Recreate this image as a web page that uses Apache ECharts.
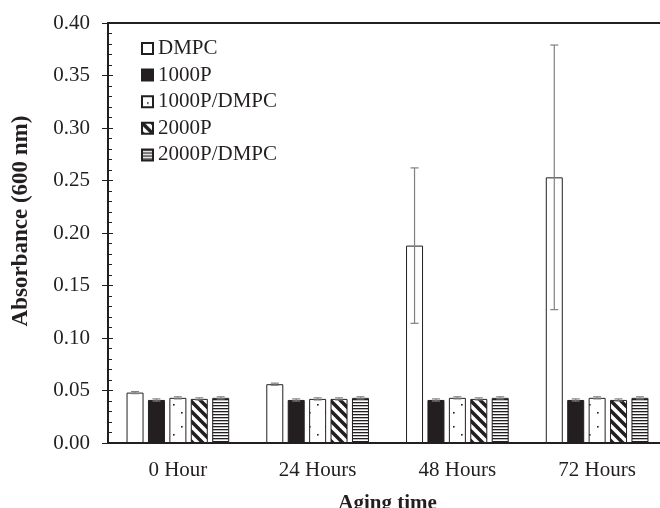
<!DOCTYPE html>
<html>
<head>
<meta charset="utf-8">
<script src="https://cdn.jsdelivr.net/npm/echarts@6/dist/echarts.min.js"></script>
<style>
  html, body { margin: 0; padding: 0; background: #fff; }
  #container { width: 660px; height: 508px; }
</style>
</head>
<body>
<div id="container"></div>
<script>
var categories = ['0 Hour', '24 Hours', '48 Hours', '72 Hours'];
var seriesNames = ['DMPC', '1000P', '1000P/DMPC', '2000P', '2000P/DMPC'];

var dmpc = [0.048, 0.056, 0.188, 0.253];
var p1000 = [0.041, 0.041, 0.041, 0.041];
var p1000dmpc = [0.043, 0.042, 0.043, 0.043];
var p2000 = [0.042, 0.042, 0.042, 0.041];
var p2000dmpc = [0.043, 0.043, 0.043, 0.043];

var dmpcErr = [0.001, 0.001, 0.074, 0.126];
var p1000Err = [0.001, 0.001, 0.001, 0.001];
var p1000dmpcErr = [0.001, 0.001, 0.001, 0.001];
var p2000Err = [0.001, 0.001, 0.001, 0.001];
var p2000dmpcErr = [0.001, 0.001, 0.001, 0.001];

var yTicks = ['0.00', '0.05', '0.10', '0.15', '0.20', '0.25', '0.30', '0.35', '0.40'];

var values = [dmpc, p1000, p1000dmpc, p2000, p2000dmpc];
var errors = [dmpcErr, p1000Err, p1000dmpcErr, p2000Err, p2000dmpcErr];

var ink = '#231f20';
var font = 'Liberation Serif';
var BAR_W = 17;
var BAR_GAP = 0.26;

// little tiles for the hatched fills
function tile(w, h, draw) {
  var c = document.createElement('canvas');
  c.width = w; c.height = h;
  var ctx = c.getContext('2d');
  ctx.fillStyle = '#fff';
  ctx.fillRect(0, 0, w, h);
  ctx.fillStyle = ink;
  ctx.strokeStyle = ink;
  draw(ctx);
  return c;
}

var dots = tile(16, 30, function (ctx) {
  ctx.fillRect(5, 6, 1.6, 1.6);
  ctx.fillRect(13, 14, 1.6, 1.6);
  ctx.fillRect(5, 22, 1.6, 1.6);
});

var diag = tile(10, 10, function (ctx) {
  ctx.lineWidth = 3.5;
  for (var k = -1; k <= 1; k++) {
    ctx.beginPath();
    ctx.moveTo(k * 10 - 2, -2);
    ctx.lineTo(k * 10 + 12, 12);
    ctx.stroke();
  }
});

var horiz = tile(4, 3.4, function (ctx) {
  ctx.fillRect(0, 0, 4, 1.3);
});

var fills = ['#ffffff', ink,
  { image: dots, repeat: 'repeat' },
  { image: diag, repeat: 'repeat' },
  { image: horiz, repeat: 'repeat' }];

var series = values.map(function (v, i) {
  return {
    name: seriesNames[i],
    type: 'bar',
    data: v,
    barWidth: BAR_W,
    barGap: (BAR_GAP * 100) + '%',
    itemStyle: { color: fills[i], borderColor: ink, borderWidth: 1 }
  };
});

var errData = [];
errors.forEach(function (e, i) {
  e.forEach(function (d, c) {
    errData.push([c, values[i][c], d, i]);
  });
});

series.push({
  type: 'custom',
  z: 5,
  data: errData,
  encode: { x: 0, y: 1 },
  renderItem: function (params, api) {
    var c = api.value(0), v = api.value(1), e = api.value(2), i = api.value(3);
    var step = BAR_W * (1 + BAR_GAP);
    var x = api.coord([c, 0])[0] + (i - 2) * step;
    var top = api.coord([c, v + e])[1];
    var bot = api.coord([c, v - e])[1];
    var cap = 4;
    var style = { stroke: '#808080', lineWidth: 1.2, fill: null };
    return {
      type: 'group',
      children: [
        { type: 'line', shape: { x1: x, y1: top, x2: x, y2: bot }, style: style },
        { type: 'line', shape: { x1: x - cap, y1: top, x2: x + cap, y2: top }, style: style },
        { type: 'line', shape: { x1: x - cap, y1: bot, x2: x + cap, y2: bot }, style: style }
      ]
    };
  }
});

var myChart = echarts.init(document.getElementById('container'));

var option = {
  backgroundColor: '#fff',
  animation: false,
  textStyle: { fontFamily: font, color: ink },
  grid: {
    left: 108, top: 23, width: 559, height: 420,
    outerBoundsMode: 'none',
    containLabel: false,
    show: true, borderColor: ink, borderWidth: 2, backgroundColor: 'transparent'
  },
  legend: {
    orient: 'vertical',
    left: 141, top: 38,
    padding: 0,
    icon: 'rect',
    itemWidth: 11, itemHeight: 11, itemGap: 5.6,
    data: seriesNames,
    textStyle: { fontFamily: font, fontSize: 21, lineHeight: 21, color: ink }
  },
  xAxis: {
    type: 'category',
    data: categories,
    name: 'Aging time',
    nameLocation: 'middle',
    nameGap: 50,
    nameTextStyle: { fontFamily: font, fontSize: 21, fontWeight: 'bold', color: ink },
    axisLine: { lineStyle: { color: ink, width: 2 } },
    axisTick: { inside: true, length: 6, lineStyle: { color: ink } },
    axisLabel: { fontFamily: font, fontSize: 21, color: ink, margin: 17 }
  },
  yAxis: [{
    type: 'value',
    min: 0, max: 0.4, interval: 0.05,
    name: 'Absorbance (600 nm)',
    nameLocation: 'middle',
    nameGap: 75,
    nameTextStyle: {
      fontFamily: font, fontSize: 23, fontWeight: 'bold', color: ink,
      padding: [0, 0, 0, 24]
    },
    axisLine: { show: true, lineStyle: { color: ink, width: 1.5 } },
    axisTick: { show: true, inside: false, length: 6, lineStyle: { color: ink } },
    axisLabel: {
      fontFamily: font, fontSize: 21, color: ink, margin: 18,
      formatter: function (v) { return yTicks[Math.round(v / 0.05)]; }
    },
    splitLine: { show: false }
  }, {
    type: 'value',
    position: 'left',
    min: 0, max: 0.4, interval: 0.05,
    axisLine: { show: false },
    axisTick: { show: true, inside: true, length: 5, lineStyle: { color: ink } },
    minorTick: { show: true, splitNumber: 5, length: 4, lineStyle: { color: ink } },
    axisLabel: { show: false },
    splitLine: { show: false }
  }],
  series: series
};

myChart.setOption(option);
</script>
</body>
</html>
